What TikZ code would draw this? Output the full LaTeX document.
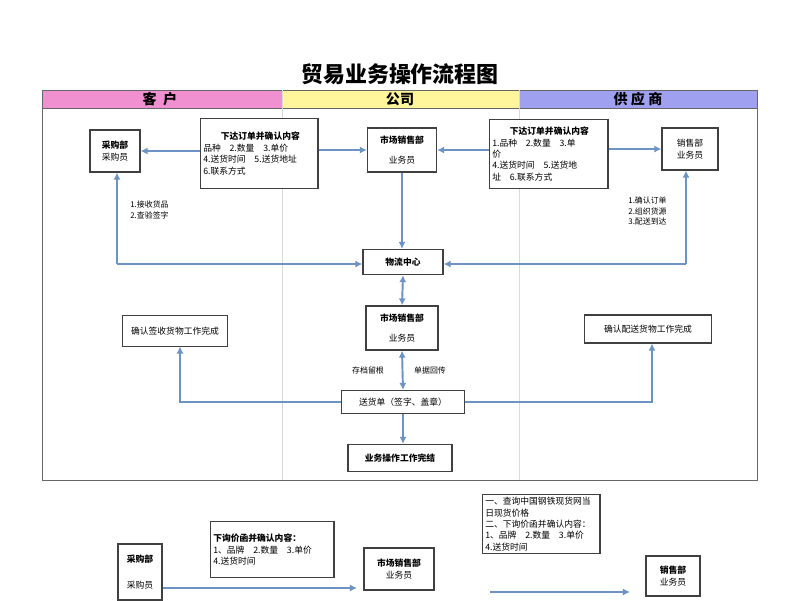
\documentclass[tikz,border=0pt]{standalone}
\usepackage{fontspec}
\setmainfont{Noto Sans CJK SC}
\usetikzlibrary{arrows.meta}
\definecolor{arr}{HTML}{6C93C2}
\definecolor{pk}{HTML}{F090D0}
\definecolor{yl}{HTML}{FFF59A}
\definecolor{lv}{HTML}{A0A0F0}
\tikzset{
 box/.style={draw=black!75,line width=0.7pt,fill=white,inner sep=1.5pt,align=center,font=\fontsize{5}{6.5}\selectfont},
 tbox/.style={box,align=left},
 ar/.style={draw=arr,line width=1.1pt,-{Latex[length=4pt,width=4pt]}},
 dar/.style={draw=arr,line width=1.1pt,{Latex[length=4pt,width=4pt]}-{Latex[length=4pt,width=4pt]}},
 lab/.style={font=\fontsize{4.5}{6}\selectfont,align=left,inner sep=0pt},
}
\begin{document}
\begin{tikzpicture}[x=0.02cm,y=-0.02cm]
\useasboundingbox (0,0) rectangle (800,600);
\fill[white] (0,0) rectangle (800,600);
\node[font=\bfseries\fontsize{12.5}{14}\selectfont] (title) at (400,74) {贸易业务操作流程图};
% header
\fill[pk] (42,90) rectangle (282,108);
\fill[yl] (282,90) rectangle (519,108);
\fill[lv] (519,90) rectangle (757,108);
\draw[black!60,line width=0.5pt] (42,90) rectangle (757,480);
\draw[black!60,line width=0.5pt] (42,108) -- (757,108);
\draw[black!15,line width=0.4pt] (282,90) -- (282,480) (519,90) -- (519,480);
\node[font=\bfseries\fontsize{8}{9}\selectfont] (h1) at (160,99) {客\ \ 户};
\node[font=\bfseries\fontsize{8}{9}\selectfont] (h2) at (400,99) {公司};
\node[font=\bfseries\fontsize{8}{9}\selectfont] (h3) at (638,99) {供\ 应\ 商};
% top row
\node[box,minimum width=50*0.02cm,minimum height=42*0.02cm] (cg) at (115,151) {\textbf{采购部}\\采购员};
\node[tbox,text width=112*0.02cm,minimum height=70*0.02cm,anchor=north west] (ol) at (200,118) {\hspace*{10pt}\textbf{下达订单并确认内容}\\品种\quad 2.数量\quad 3.单价\\4.送货时间\quad 5.送货地址\\6.联系方式\\[10pt]};
\node[box,minimum width=69*0.02cm,minimum height=44*0.02cm] (sc) at (402,150) {\textbf{市场销售部}\\[5pt]业务员};
\node[tbox,text width=113*0.02cm,minimum height=69*0.02cm,anchor=north west] (or) at (489,119) {\hspace*{10pt}\textbf{下达订单并确认内容}\\1.品种\quad 2.数量\quad 3.单\\价\\4.送货时间\quad 5.送货地\\址\quad 6.联系方式};
\node[box,minimum width=56*0.02cm,minimum height=42*0.02cm] (xs) at (690,149) {销售部\\业务员};
\draw[ar] (ol.west |- cg) -- (cg);
\draw[ar] (ol.east |- sc) -- (sc);
\draw[ar] (or.west |- sc) -- (sc);
\draw[ar] (or.east |- xs) -- (xs);
% logistics
\node[box,minimum width=80*0.02cm,minimum height=25*0.02cm,font=\bfseries\fontsize{5}{6.5}\selectfont] (wl) at (403,262) {物流中心};
\draw[ar] (sc.south) -- (sc.south |- wl.north);
\coordinate (cl) at (117,264);
\coordinate (cr) at (686,264);
\draw[ar] (cl) -- (cl -| wl.west);
\draw[ar] (cl) -- (cl |- cg.south);
\draw[ar] (cr) -- (cr -| wl.east);
\draw[ar] (cr) -- (cr |- xs.south);
\node[lab,anchor=west] (l1) at (130,210) {1.接收货品\\2.查验签字};
\node[lab,anchor=west] (l2) at (628,211) {1.确认订单\\2.组织货源\\3.配送到达};
% middle
\node[box,minimum width=72*0.02cm,minimum height=44*0.02cm] (sc2) at (402,328) {\textbf{市场销售部}\\[5pt]业务员};
\draw[dar] (wl.south) -- (sc2.north);
\node[box,minimum width=105*0.02cm,minimum height=31*0.02cm] (qs) at (175,331) {确认签收货物工作完成};
\node[box,minimum width=127*0.02cm,minimum height=28*0.02cm] (qp) at (648,329) {确认配送货物工作完成};
\node[box,minimum width=123*0.02cm,minimum height=23*0.02cm] (sh) at (403,402) {送货单（签字、盖章）};
\draw[dar] (sc2.south) -- (sh.north);
\node[lab] (l3) at (368,370) {存档留根};
\node[lab] (l4) at (430,370) {单据回传};
\node[box,minimum width=104*0.02cm,minimum height=27*0.02cm,font=\bfseries\fontsize{5}{6.5}\selectfont] (wj) at (400,458) {业务操作工作完结};
\draw[ar] (sh.south) -- (sh.south |- wj.north);
\draw[ar] (sh.west) -| (180,346.5);
\draw[ar] (sh.east) -| (652,343.5);
% bottom section
\node[box,minimum width=44*0.02cm,minimum height=56*0.02cm] (cg2) at (140,572) {\textbf{采购部}\\[8pt]采购员};
\node[tbox,text width=118*0.02cm,minimum height=56*0.02cm,anchor=north west] (xj) at (210,521) {\textbf{下询价函并确认内容：}\\1、品牌\quad 2.数量\quad 3.单价\\4.送货时间\\[10pt]};
\node[box,minimum width=70*0.02cm,minimum height=42*0.02cm] (sc3) at (399,569) {\textbf{市场销售部}\\业务员};
\node[tbox,text width=112*0.02cm,anchor=north west] (cx) at (482,494) {一、查询中国钢铁现货网当\\日现货价格\\二、下询价函并确认内容：\\1、品牌\quad 2.数量\quad 3.单价\\4.送货时间\\[28pt]};
\node[box,minimum width=54*0.02cm,minimum height=40*0.02cm] (xs2) at (673,576) {\textbf{销售部}\\业务员};
\draw[ar] (cg2.east |- 0,588) -- (357,588);
\coordinate (b1) at (490,592);
\draw[ar] (b1) -- (630,592);
\end{tikzpicture}
\end{document}
